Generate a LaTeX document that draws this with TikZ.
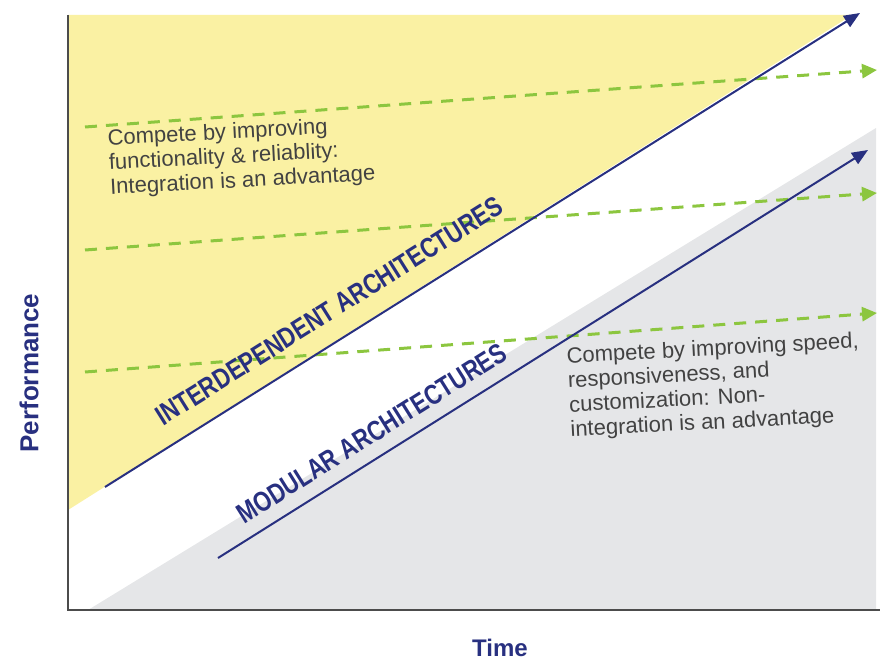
\documentclass[tikz,border=0pt]{standalone}
\usepackage{fontspec}
\setmainfont{Liberation Sans}
\newfontfamily\archfont{Liberation Sans}[FakeStretch=0.8]
\usetikzlibrary{arrows.meta}

\definecolor{archblue}{RGB}{40,48,128}
\definecolor{trendgreen}{RGB}{140,198,63}
\definecolor{paneyellow}{RGB}{250,241,163}
\definecolor{panegray}{RGB}{229,230,232}
\definecolor{notegray}{RGB}{66,66,66}

\tikzset{
  axisline/.style={draw=black!70,line width=2pt},
  archarrow/.style={archblue,line width=2pt,-{Triangle[length=16pt,width=13pt]}},
  trendarrow/.style={trendgreen,line width=3pt,dash pattern=on 12pt off 9pt,-{Triangle[length=15pt,width=14pt]}},
  archlabel/.style={archblue,font=\archfont\bfseries\fontsize{28}{28}\selectfont,sloped,inner sep=2pt},
  notetext/.style={notegray,font=\fontsize{22}{24.5}\selectfont,align=left,inner sep=0pt,rotate=3},
  axislabel/.style={archblue,font=\bfseries\fontsize{24}{24}\selectfont}
}

\begin{document}
\begin{tikzpicture}[x=1pt,y=-1pt]
    \useasboundingbox (0,0) rectangle (880,663);

    % background zones
    \fill[paneyellow](68,15)--(852,15)--(68,510)--cycle;
    \fill[panegray](88,610)--(876,128)--(876,610)--cycle;

    % axes
    \draw[axisline](68,15)--(68,610)--(880,610);

    % green trends
    \coordinate (g1s) at (85,127);  \coordinate (g1e) at (877,70);
    \coordinate (g2s) at (85,250);  \coordinate (g2e) at (877,193);
    \coordinate (g3s) at (85,372);  \coordinate (g3e) at (877,313);
    \draw[trendarrow](g1s)--(g1e);
    \draw[trendarrow](g2s)--(g2e);
    \draw[trendarrow](g3s)--(g3e);

    % architecture lines
    \coordinate (inters) at (105,487); \coordinate (intere) at (860,13);
    \coordinate (mods) at (218,558);   \coordinate (mode) at (868,150);
    \draw[archarrow](inters)--(intere)node[archlabel,above=17pt,pos=0.318](inter){INTERDEPENDENT ARCHITECTURES};
    \draw[archarrow](mods)--(mode)node[archlabel,above=11pt,pos=0.256](modular){MODULAR ARCHITECTURES};

    % notes
    \node[notetext,anchor=north west](integral) at (107,129){Compete by improving\\functionality \& reliablity:\\Integration is an advantage};
    \node[notetext,anchor=north west](modnote) at (566,347){Compete by improving speed,\\responsiveness, and\\customization: Non-\\integration is an advantage};

    % axis labels
    \node[axislabel,rotate=90,font=\bfseries\fontsize{26}{26}\selectfont](perf) at (29,373){Performance};
    \node[axislabel](time) at (500,648){Time};
\end{tikzpicture}
\end{document}
